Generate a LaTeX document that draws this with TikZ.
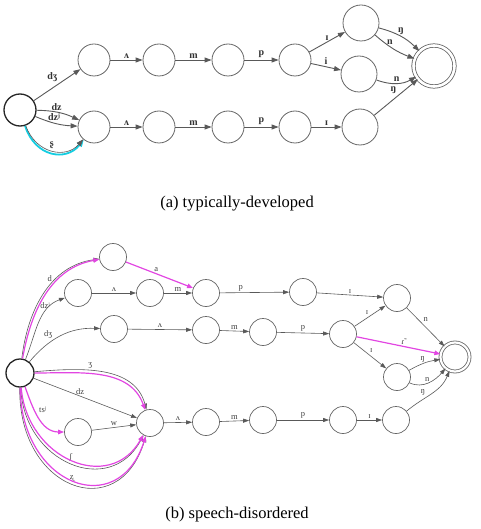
\documentclass[tikz,border=0pt]{standalone}
\usepackage{fontspec}
\setmainfont{Liberation Serif}
\usetikzlibrary{arrows.meta}

\definecolor{hilite}{RGB}{226,70,226}
\definecolor{aqua}{RGB}{20,205,225}

\begin{document}
\begin{tikzpicture}
	[
		x = 1pt, y = -1pt,
		state/.style = {shape=circle, draw=black!60, line width=0.8pt, inner sep=0pt, fill=white},
		bigstate/.style = {state, minimum size=32pt},
		widestate/.style = {state, minimum size=36pt},
		smallstate/.style = {state, minimum size=27pt, line width=0.7pt},
		startstate/.style = {state, draw=black!85, line width=1.3pt},
		endstate/.style = {state, double=white, double distance=2.6pt},
		edge/.style = {draw=black!65, line width=0.9pt, -{Triangle[length=7pt, width=5pt]}},
		thinedge/.style = {draw=black!65, line width=0.6pt, -{Triangle[length=6pt, width=4pt]}},
		pinkedge/.style = {thinedge, draw=hilite, line width=1.2pt, -{Triangle[length=6pt, width=4.5pt, fill=hilite]}},
		lab/.style = {font=\fontsize{10}{12}\selectfont\bfseries, text=black!80, inner sep=1.5pt},
		smalllab/.style = {font=\fontsize{8.5}{10}\selectfont, text=black!75, inner sep=1.5pt},
		caption/.style = {font=\fontsize{16.5}{19}\selectfont}
	]
	\useasboundingbox (0,0) rectangle (480,529);
	
	% (a) typically-developed
	\node [startstate, minimum size=32pt] (s) at (20,110) {};
	
	\node [bigstate] (a1) at (94,60) {};
	\node [bigstate] (a2) at (159,60) {};
	\node [bigstate] (a3) at (228,60) {};
	\node [bigstate] (a4) at (295,60) {};
	\node [widestate] (a5) at (361,23) {};
	\node [widestate] (a6) at (359,74) {};
	
	\node [bigstate] (b1) at (94,127) {};
	\node [bigstate] (b2) at (159,127) {};
	\node [bigstate] (b3) at (228,127) {};
	\node [bigstate] (b4) at (295,127) {};
	\node [widestate] (b5) at (360,127) {};
	
	\node [endstate, minimum size=41pt] (f) at (434,66) {};
	
	\newcommand{\step}[3]{\draw [edge] (#1) -- node [lab, above] {#3} (#2);}
	
	\draw [edge] (s) -- node [lab, above left, pos=.55] {dʒ} (a1);
	\draw [edge] (s) to [bend left=12] node [lab, above, pos=.45] {dz} (b1);
	\draw [edge] (s) to [bend right=10] node [lab, above, pos=.45] {dzʲ} (b1);
	\draw [draw=aqua, line width=1.8pt, -{Triangle[length=7pt, width=5.5pt, fill=aqua]}] (s) .. controls (35,157) and (66,162) .. (b1);
	\draw [edge, line width=.6pt] (s) .. controls (36,154) and (66,159) .. node [lab, above, pos=.5] {ʂ} (b1);
	
	\step{a1}{a2}{ʌ}
	\step{a2}{a3}{m}
	\step{a3}{a4}{p}
	\step{a4}{a5}{ɪ}
	\step{a4}{a6}{i}
	\draw [edge] (a5) to [bend left=15] node [lab, above] {ŋ} (f);
	\draw [edge] (a5) to [bend right=10] node [lab, above, pos=.4] {n} (f);
	\draw [edge] (a6) to [bend right=25] node [lab, above] {n} (f);
	
	\step{b1}{b2}{ʌ}
	\step{b2}{b3}{m}
	\step{b3}{b4}{p}
	\step{b4}{b5}{ɪ}
	\draw [edge] (b5) -- node [lab, above left, pos=.55] {ŋ} (f);
	
	\node [caption] (capa) at (237,204) {(a) typically-developed};
	
	% (b) speech-disordered
	\node [startstate, minimum size=28pt] (t) at (20,373) {};
	
	\node [smallstate] (d1) at (113,257) {};
	\node [smallstate] (c1) at (78,293) {};
	\node [smallstate] (c2) at (150,293) {};
	\node [smallstate] (c3) at (206,293) {};
	\node [smallstate] (c4) at (303,292) {};
	\node [smallstate] (c5) at (397,298) {};
	
	\node [smallstate] (e1) at (114,329) {};
	\node [smallstate] (e2) at (206,330) {};
	\node [smallstate] (e3) at (263,332) {};
	\node [smallstate] (e4) at (343,334) {};
	\node [smallstate] (e5) at (397,377) {};
	
	\node [smallstate] (w1) at (78,432) {};
	\node [smallstate] (g1) at (150,423) {};
	\node [smallstate] (g2) at (206,422) {};
	\node [smallstate] (g3) at (263,420) {};
	\node [smallstate] (g4) at (343,420) {};
	\node [smallstate] (g5) at (396,420) {};
	
	\node [endstate, minimum size=29pt, double distance=2.2pt] (F) at (455,357) {};
	
	\newcommand{\hop}[3]{\draw [thinedge] (#1) -- node [smalllab, above] {#3} (#2);}
	
	% from the start state
	\draw [thinedge] (t) to [out=83, in=188] (d1);
	\draw [pinkedge] (t) to [out=80, in=190] node [smalllab, above left, pos=.6] {d} (d1);
	\draw [pinkedge] (d1) -- node [smalllab, above, pos=.45] {a} (c3);
	\draw [thinedge] (t) to [out=68, in=200] node [smalllab, left, pos=.8] {dzʲ} (c1);
	\draw [thinedge] (t) to [out=50, in=178] node [smalllab, above left, pos=.4] {dʒ} (e1);
	\draw [thinedge] (t) to [out=5, in=105] node [smalllab, above, pos=.4] {ʒ} (g1);
	\draw [pinkedge] (t) to [out=0, in=110] (g1);
	\draw [thinedge] (t) -- node [smalllab, above, pos=.45] {dz} (g1);
	\draw [pinkedge] (t) to [out=-70, in=180] node [smalllab, above right, pos=.45] {tsʲ} (w1);
	\hop{w1}{g1}{w}
	\draw [thinedge] (t) .. controls (24,463) and (110,498) .. node [smalllab, above, pos=.5] {ʃ} (g1);
	\draw [pinkedge] (t) .. controls (27,459) and (110,494) .. (g1);
	\draw [thinedge] (t) .. controls (18,489) and (118,526) .. node [smalllab, above, pos=.5] {ʐ} (g1);
	\draw [pinkedge] (t) .. controls (21,485) and (118,522) .. (g1);
	
	% upper branch
	\hop{c1}{c2}{ʌ}
	\hop{c2}{c3}{m}
	\draw [thinedge] (c3) -- node [smalllab, above, pos=.3] {p} (c4);
	\hop{c4}{c5}{ɪ}
	\draw [thinedge] (c5) -- node [smalllab, above right, pos=.4] {n} (F);
	
	% middle branch
	\hop{e1}{e2}{ʌ}
	\hop{e2}{e3}{m}
	\hop{e3}{e4}{p}
	\draw [thinedge] (e4) -- node [smalllab, above left, pos=.5] {ɪ} (c5);
	\draw [pinkedge] (e4) -- node [smalllab, above, pos=.55] {ɾ̃} (F);
	\draw [thinedge] (e4) -- node [smalllab, above right, pos=.45] {ɪ} (e5);
	\draw [thinedge] (e5) to [bend left=10] node [smalllab, above, pos=.45] {ŋ} (F);
	\draw [thinedge] (e5) to [out=-25, in=-130] node [smalllab, above, pos=.45] {n} (F);
	
	% lower branch
	\hop{g1}{g2}{ʌ}
	\hop{g2}{g3}{m}
	\hop{g3}{g4}{p}
	\hop{g4}{g5}{ɪ}
	\draw [thinedge] (g5) to [out=40, in=-112] node [smalllab, above left, pos=.4] {ŋ} (F);
	
	\node [caption] (capb) at (237,515) {(b) speech-disordered};
\end{tikzpicture}
\end{document}
